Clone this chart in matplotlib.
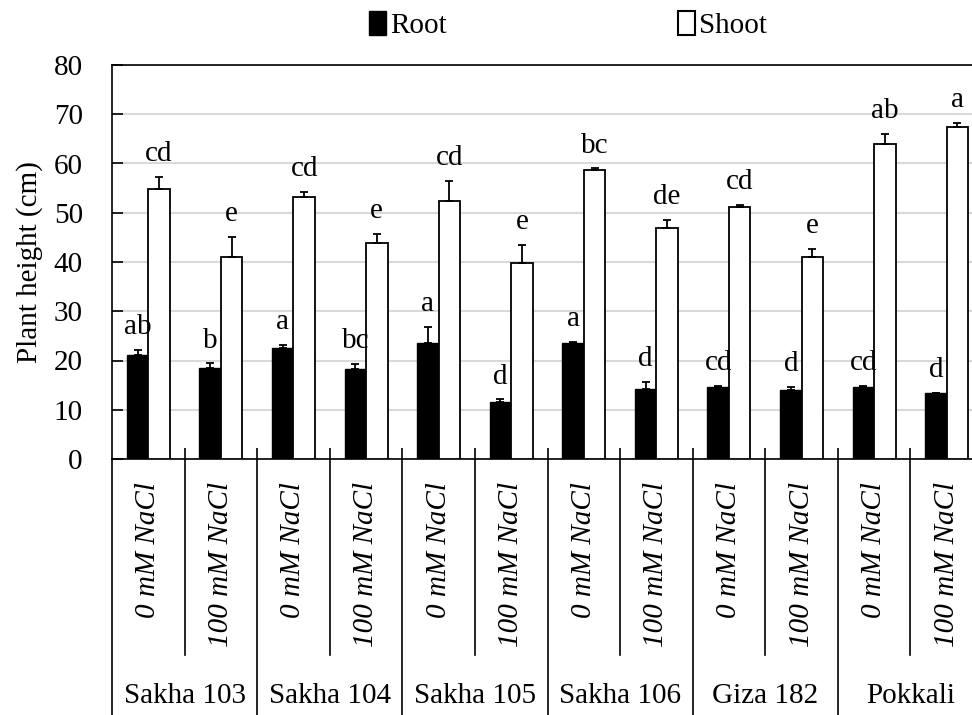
import numpy as np
import matplotlib.pyplot as plt
from matplotlib.patches import Patch

plt.rcParams["font.family"] = ["Liberation Serif", "DejaVu Serif"]
plt.rcParams["font.size"] = 21

varieties = ["Sakha 103", "Sakha 104", "Sakha 105", "Sakha 106", "Giza 182", "Pokkali"]
treatments = ["0 mM NaCl", "100 mM NaCl"]

root = [21.1, 18.5, 22.6, 18.2, 23.5, 11.6, 23.6, 14.2, 14.7, 14.0, 14.7, 13.3]
root_err = [1.0, 0.9, 0.5, 1.1, 3.4, 0.5, 0.2, 1.4, 0.2, 0.6, 0.2, 0.1]
shoot = [54.8, 41.1, 53.1, 43.8, 52.4, 39.7, 58.7, 47.0, 51.1, 41.1, 64.0, 67.5]
shoot_err = [2.5, 4.0, 1.2, 1.9, 4.0, 3.8, 0.3, 1.5, 0.5, 1.5, 2.0, 0.7]

root_letters = ["ab", "b", "a", "bc", "a", "d", "a", "d", "cd", "d", "cd", "d"]
shoot_letters = ["cd", "e", "cd", "e", "cd", "e", "bc", "de", "cd", "e", "ab", "a"]

FIG_W, FIG_H = 972, 715

fig = plt.figure(figsize=(FIG_W / 100, FIG_H / 100), dpi=100)
ax = fig.add_axes([112 / FIG_W, 256 / FIG_H, 871 / FIG_W, 394 / FIG_H])

n = len(root)
x = np.arange(n)
w = 0.296
off = 0.148

err_kw = dict(elinewidth=1.3, capthick=1.3, ecolor="black")
zeros = np.zeros(n)
ax.bar(x - off, root, w, color="black", edgecolor="black", linewidth=1.0,
       yerr=[zeros, root_err], capsize=3, error_kw=err_kw, zorder=3)
ax.bar(x + off, shoot, w, color="white", edgecolor="black", linewidth=1.3,
       yerr=[zeros, shoot_err], capsize=3, error_kw=err_kw, zorder=3)

# significance letters
for i in range(n):
    ax.text(x[i] - off, root[i] + root_err[i] + 3.2, root_letters[i],
            ha="center", va="baseline", zorder=4)
    ax.text(x[i] + off, shoot[i] + shoot_err[i] + 3.2, shoot_letters[i],
            ha="center", va="baseline", zorder=4)

ax.set_xlim(-0.5, 11.5)
ax.set_ylim(0, 80)
ax.set_yticks(np.arange(0, 81, 10))
ax.yaxis.grid(True, color="#d9d9d9", linewidth=1.5)
ax.set_axisbelow(True)

for s in ["left", "top", "bottom"]:
    ax.spines[s].set_linewidth(1.2)
ax.spines["right"].set_visible(False)

bounds = np.arange(n + 1) - 0.5
ax.set_xticks(bounds[1:-1])
ax.set_xticklabels([])
ax.tick_params(axis="x", direction="in", length=8, width=1.2)
ax.tick_params(axis="y", direction="in", length=8, width=1.2, pad=21)
ax.set_ylabel("Plant height (cm)", labelpad=8)

tr = ax.get_xaxis_transform()
# category separators below the axis
for k, b in enumerate(bounds):
    if k % 2 == 0:
        ax.plot([b, b], [0, -0.68], transform=tr, color="black", lw=1.2, clip_on=False)
    else:
        ax.plot([b, b], [0, -0.497], transform=tr, color="black", lw=1.2, clip_on=False)

for i in range(n):
    ax.text(x[i], -0.058, treatments[i % 2], transform=tr, rotation=90,
            ha="center", va="top", style="italic")
for g, name in enumerate(varieties):
    ax.text(2 * g + 0.5, -0.619, name, transform=tr, ha="center", va="baseline")

handles = [Patch(facecolor="black", edgecolor="black"),
           Patch(facecolor="white", edgecolor="black", linewidth=1.5)]
fig.legend(handles, ["Root", "Shoot"], loc="center", bbox_to_anchor=(568 / FIG_W, 1 - 25 / FIG_H),
           ncol=2, frameon=False, columnspacing=7.9, handlelength=0.6, handleheight=0.9,
           handletextpad=0.15)

fig.savefig("out.png", dpi=100)
